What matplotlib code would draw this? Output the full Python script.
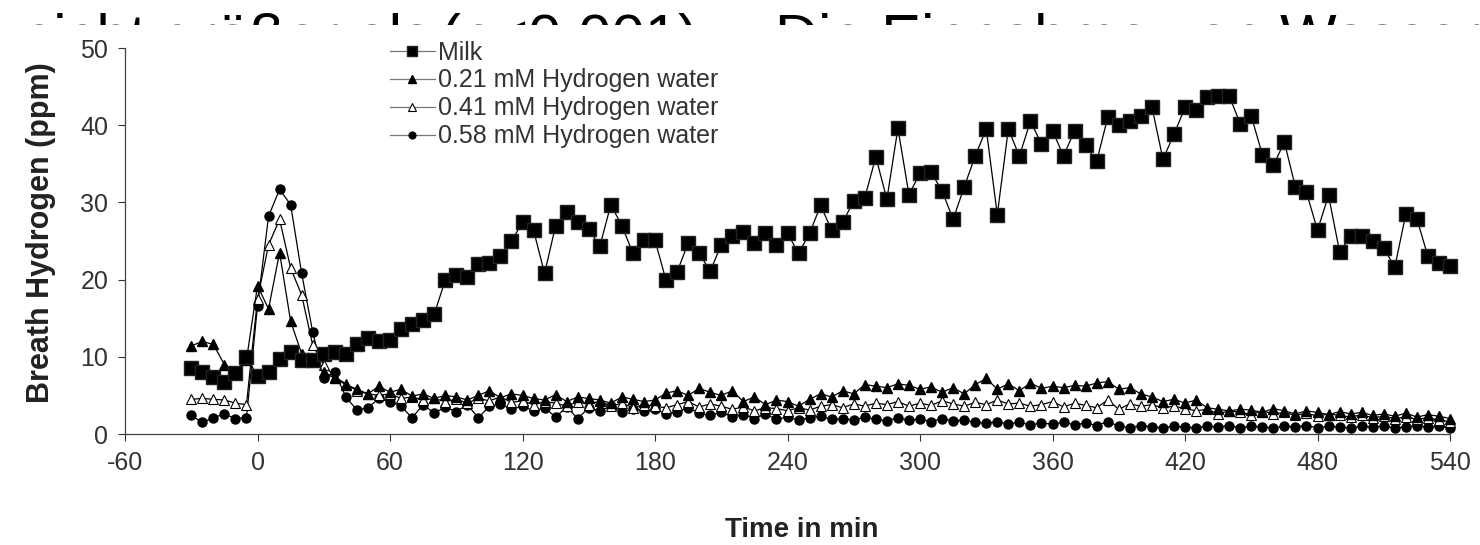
import matplotlib
matplotlib.use("Agg")
import matplotlib.pyplot as plt
from matplotlib.transforms import Bbox, TransformedBbox

# time points (min), every 5 min from -30 to 540
time = list(range(-30, 545, 5))

milk = [8.6, 8.0, 7.4, 6.8, 7.9, 10.0,
        7.5, 8.0, 9.7, 10.6, 9.6, 9.6,
        10.3, 10.6, 10.4, 11.6, 12.4, 12.0,
        12.2, 13.6, 14.2, 14.8, 15.5, 19.9,
        20.6, 20.4, 22.0, 22.2, 23.0, 25.0,
        27.4, 26.4, 20.8, 27.0, 28.7, 27.5,
        26.6, 24.3, 29.7, 27.0, 23.4, 25.1,
        25.1, 19.9, 21.0, 24.7, 23.4, 21.1,
        24.5, 25.6, 26.2, 24.7, 26.0, 24.5,
        26.0, 23.4, 26.0, 29.6, 26.4, 27.4,
        30.2, 30.6, 35.9, 30.4, 39.6, 31.0,
        33.8, 33.9, 31.5, 27.8, 32.0, 36.0,
        39.5, 28.4, 39.5, 36.0, 40.5, 37.6,
        39.3, 36.0, 39.3, 37.4, 35.3, 41.0,
        40.0, 40.5, 41.2, 42.4, 35.6, 38.8,
        42.3, 42.0, 43.6, 43.8, 43.8, 40.2,
        41.2, 36.2, 34.8, 37.8, 32.0, 31.3,
        26.4, 30.9, 23.6, 25.6, 25.6, 25.0,
        24.1, 21.6, 28.5, 27.9, 23.0, 22.2,
        21.8]

h2_021 = [11.4, 12.0, 11.6, 9.0, 8.2, 9.6,
          19.2, 16.2, 23.5, 14.6, 10.4, 9.8,
          8.0, 7.2, 6.4, 5.8, 5.2, 6.2,
          5.4, 5.8, 4.9, 5.2, 4.6, 5.0,
          4.8, 4.4, 5.0, 5.6, 4.7, 5.2,
          5.0, 4.6, 4.4, 5.1, 4.2, 4.8,
          4.6, 4.4, 4.0, 4.8, 4.5, 4.2,
          4.4, 5.3, 5.6, 5.0, 5.9, 5.4,
          5.0, 5.6, 4.2, 4.8, 3.8, 4.4,
          4.2, 3.6, 4.5, 5.2, 4.8, 5.6,
          5.2, 6.4, 6.2, 6.0, 6.5, 6.3,
          5.8, 6.1, 5.4, 6.0, 5.2, 6.4,
          7.2, 5.8, 6.5, 5.6, 6.6, 5.9,
          6.2, 6.0, 6.3, 6.2, 6.6, 6.8,
          5.8, 6.0, 5.2, 4.8, 4.2, 4.5,
          4.0, 4.4, 3.4, 3.2, 3.0, 3.2,
          3.1, 2.8, 3.3, 3.0, 2.6, 3.0,
          2.8, 2.5, 2.9, 2.6, 2.8, 2.4,
          2.6, 2.3, 2.7, 2.2, 2.5, 2.3,
          2.0]

h2_041 = [4.5, 4.6, 4.5, 4.4, 4.0, 3.8,
          17.5, 24.5, 27.8, 21.5, 18.0, 11.5,
          9.0, 7.4, 6.5, 5.6, 5.2, 5.0,
          5.2, 4.6, 4.8, 4.4, 4.6, 4.2,
          4.5, 4.0, 4.6, 4.3, 4.8, 4.1,
          4.3, 3.8, 4.2, 4.0, 3.6, 4.2,
          3.8, 4.3, 3.6, 4.0, 3.4, 3.8,
          3.6, 3.4, 3.8, 4.2, 3.5, 3.9,
          3.6, 3.2, 3.5, 3.0, 3.4, 3.3,
          3.0, 3.4, 3.1, 3.6, 3.8, 3.4,
          3.9, 3.6, 4.0, 3.8, 4.2, 3.6,
          4.0, 3.7, 4.3, 3.9, 3.6, 4.1,
          3.8, 4.4, 3.9, 4.0, 3.6, 3.8,
          4.2, 3.5, 4.0, 3.7, 3.4, 4.4,
          3.2, 3.9, 3.6, 3.8, 3.4, 3.6,
          3.3, 3.0, 3.2, 2.6, 3.0, 2.8,
          2.5, 3.0, 2.6, 2.8, 2.4, 2.7,
          2.3, 2.6, 2.4, 2.2, 2.5, 2.1,
          2.3, 2.0, 2.2, 1.9, 2.1, 1.8,
          1.6]

h2_058 = [2.4, 1.5, 2.1, 2.6, 2.0, 2.1,
          16.6, 28.2, 31.7, 29.7, 20.8, 13.2,
          7.3, 8.0, 4.8, 3.1, 3.4, 4.6,
          4.2, 3.6, 2.1, 3.8, 2.7, 3.5,
          2.9, 3.8, 2.1, 3.6, 3.9, 3.2,
          3.6, 3.0, 3.4, 2.2, 3.5, 2.0,
          3.4, 3.0, 3.6, 2.8, 3.3, 3.0,
          3.2, 2.6, 2.9, 3.4, 2.7, 2.4,
          2.8, 2.2, 2.5, 2.0, 2.6, 1.9,
          2.2, 1.8, 2.1, 2.3, 1.9, 2.0,
          1.8, 2.2, 1.9, 1.7, 2.1, 1.8,
          1.9, 1.6, 2.0, 1.7, 1.8, 1.5,
          1.4, 1.6, 1.3, 1.5, 1.2, 1.4,
          1.3, 1.5, 1.2, 1.4, 1.1, 1.6,
          1.0, 0.8, 1.1, 0.9, 0.8, 1.0,
          0.9, 0.8, 1.0, 0.9, 1.1, 0.8,
          1.0, 0.9, 0.8, 1.0, 0.9, 1.1,
          0.8, 1.0, 0.9, 0.8, 1.0, 0.9,
          1.0, 0.8, 0.9, 1.1, 0.9, 1.0,
          0.8]

labels = ["Milk", "0.21 mM Hydrogen water", "0.41 mM Hydrogen water",
          "0.58 mM Hydrogen water"]
xticks = list(range(-60, 541, 60))
yticks = list(range(0, 51, 10))

plt.rcParams['font.family'] = ['Liberation Sans', 'DejaVu Sans']
plt.rcParams['axes.unicode_minus'] = False

W, H = 1480, 545
fig = plt.figure(figsize=(W / 100, H / 100), dpi=100)
ax = fig.add_axes([125 / W, 1 - 434 / H, (1450 - 125) / W, (434 - 48) / H])

ln = dict(color='black', lw=0.9, clip_on=False)
ax.plot(time, h2_058, marker='o', ms=6.5, mfc='black', mec='black', label=labels[3], **ln)
ax.plot(time, h2_041, marker='^', ms=7, mfc='white', mec='black', mew=0.8, label=labels[2], **ln)
ax.plot(time, h2_021, marker='^', ms=7, mfc='black', mec='black', label=labels[1], **ln)
ax.plot(time, milk, marker='s', ms=9.5, mfc='black', mec='#222222', label=labels[0], **ln)

ax.set_xlim(-60, 540)
ax.set_ylim(0, 50)
ax.set_xticks(xticks)
ax.set_yticks(yticks)
ax.tick_params(labelsize=18, length=5, width=0.8, colors='#333333', pad=7)
for s in ['top', 'right']:
    ax.spines[s].set_visible(False)
for s in ['left', 'bottom']:
    ax.spines[s].set_color('#444444')
    ax.spines[s].set_linewidth(0.9)

fig.text(41 / W, 1 - 233 / H, "Breath Hydrogen (ppm)", rotation=90, fontsize=22,
         fontweight='bold', ha='center', va='center', color='#222222')
fig.text(802 / W, 1 - 530 / H, "Time in min", fontsize=20, fontweight='bold',
         ha='center', va='center', color='#222222')

handles, labs = ax.get_legend_handles_labels()
order = [3, 2, 1, 0]
leg = fig.legend([handles[i] for i in order], [labs[i] for i in order],
                 loc='upper left', bbox_to_anchor=(377 / W, 1 - 28 / H),
                 frameon=False, fontsize=18, borderpad=0, labelspacing=0.16,
                 handlelength=1.8, handletextpad=0.15, markerscale=0.75)
for t in leg.get_texts():
    t.set_color('#333333')
for lh in leg.get_lines():
    lh.set_color('#777777')

# cut-off line of the surrounding German page text at the very top
clip = TransformedBbox(Bbox([[0, 1 - 25 / H], [1, 1]]), fig.transFigure)
for x, s in [(20, "nicht größer als"), (440, "(p<0.001)."),
             (775, "Die Einnahme von Wasserstoff")]:
    t = fig.text(x / W, 1 - 56 / H, s, fontsize=43, ha='left', va='baseline')
    t.set_clip_box(clip)
    t.set_clip_on(True)

fig.savefig("out.png", dpi=100)
